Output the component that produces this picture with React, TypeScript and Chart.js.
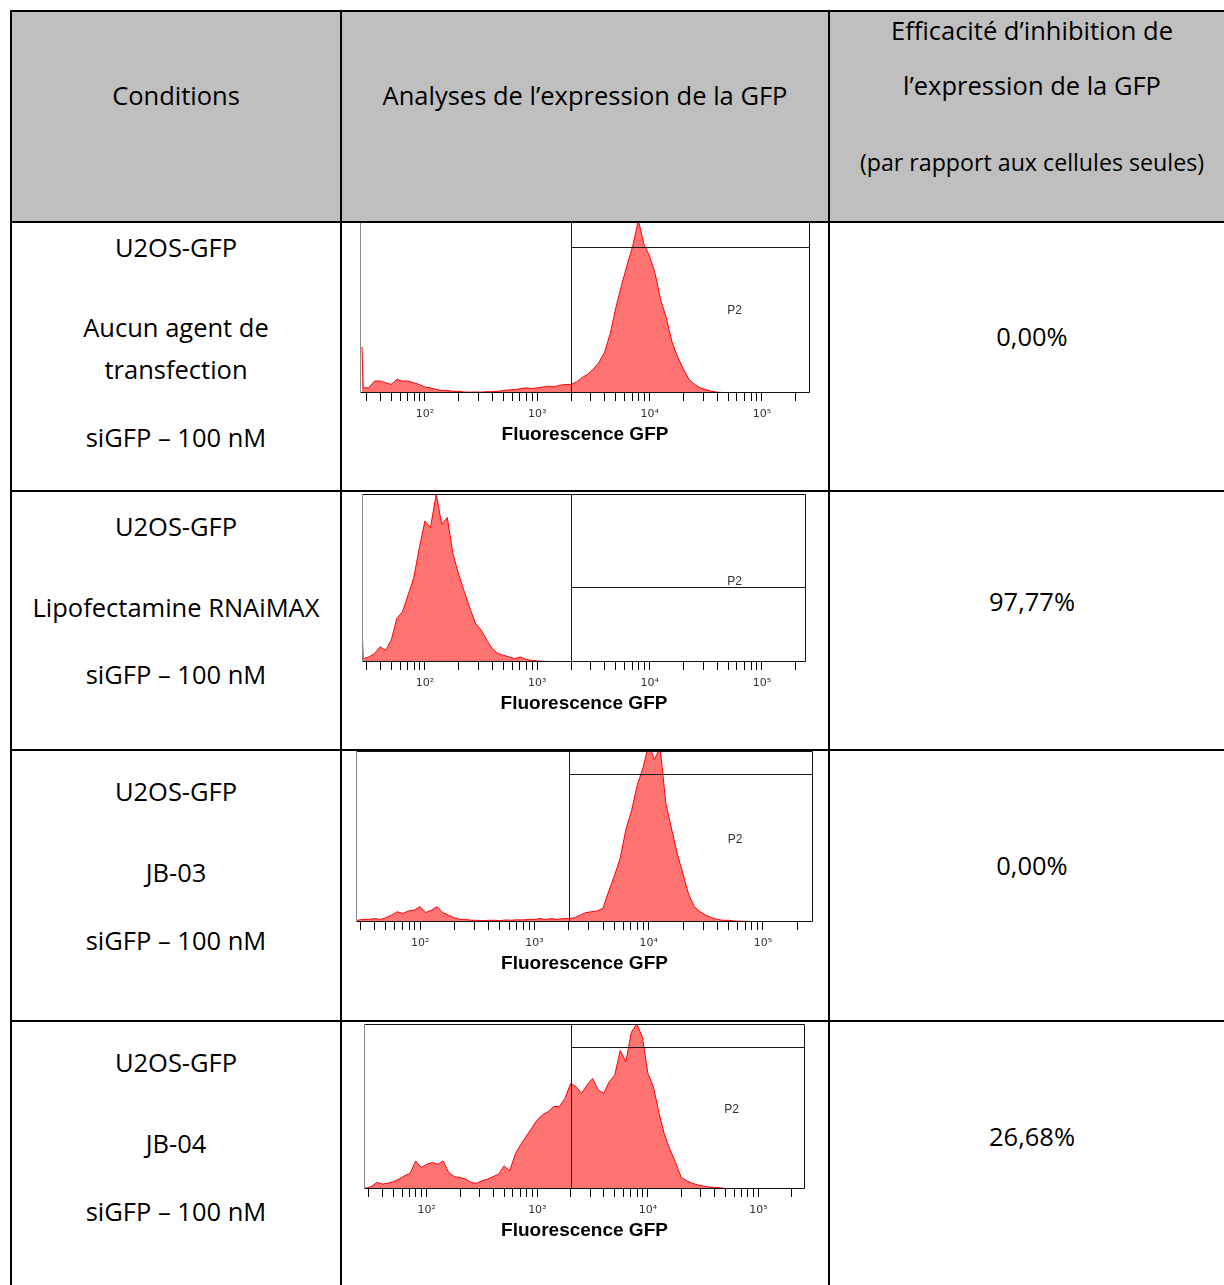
import React, { useEffect, useRef } from "react";
import { Chart, registerables } from "chart.js";

Chart.register(...registerables);

// ---------- DATA ----------
// fluorescence bin positions (GFP intensity, log spaced as read on the axis)
const bins = [
  27.5, 28.2, 31.6, 35.5, 39.8, 44.7, 50.1, 56.2, 63.1, 70.8, 79.4, 89.1,
  100, 112, 126, 141, 158, 178, 200, 224, 251, 282, 316, 355, 398, 447, 501, 562, 631, 708, 794, 891,
  1000, 1120, 1260, 1410, 1580, 1780, 2000, 2240, 2510, 2820, 3160, 3550, 3980, 4470, 5010, 5620, 6310, 7080, 7940, 8910,
  10000, 11200, 12600, 14100, 15800, 17800, 20000, 22400, 25100, 28200, 31600, 35500, 39800, 44700, 50100, 56200, 63100, 70800, 79400, 89100,
  100000, 112000, 126000, 141000, 158000, 178000, 200000, 224000, 251000,
];

// counts (% of panel full scale)
const countsNoAgent = [
  27, 3, 3, 7, 7, 6, 5, 8, 7, 7, 6, 5,
  3.5, 3, 2, 1.5, 1.5, 1, 1, 0.6, 0.5, 0.6, 0.5, 0.8, 0.8, 1, 1.5, 1.8, 2, 2.5, 3, 2.6,
  3, 3.5, 4, 3.6, 4.5, 5, 5, 6.5, 9, 11, 14, 18, 24, 35, 50, 63, 75, 86, 101, 87,
  80, 70, 54, 44, 30, 21, 14, 8, 5, 3, 2, 1, 0.5, 0.3, 0, 0, 0, 0, 0, 0,
  0, 0, 0, 0, 0, 0, 0, 0, 0,
];
const countsLipo = [
  22, 2, 3, 5, 9, 7, 13, 26, 30, 40, 50, 68,
  84, 80, 100, 82, 86, 64, 52, 42, 32, 23, 19, 13, 8, 5, 4, 3, 2, 3, 1.5, 1,
  0.6, 0.4, 0.3, 0.3, 0.2, 0.3, 0.3, 0.2, 0.3, 0.3, 0.2, 0.3, 0.2, 0.2, 0.3, 0.2, 0.2, 0.3, 0.2, 0.3,
  0, 0, 0, 0, 0, 0, 0, 0, 0, 0, 0, 0, 0, 0, 0, 0, 0, 0, 0, 0,
  0, 0, 0, 0, 0, 0, 0, 0, 0,
];
const countsJB03 = [
  1, 1, 1.5, 1.5, 2, 1.5, 2.5, 4, 6, 5, 6.5, 7,
  9, 5.5, 7, 9, 5.5, 4, 2.5, 1.5, 1.5, 1, 1, 0.8, 1, 1, 0.8, 1.2, 1, 1.3, 1.2, 1.5,
  1.5, 2, 1.5, 2, 1.5, 2, 2, 2.5, 4, 5.5, 6, 6.5, 8, 18, 27, 37, 54, 65, 80, 90,
  104, 95, 102, 70, 55, 40, 28, 16, 9, 6, 4, 2.5, 1.5, 1, 1, 0.6, 0.5, 0.4, 0.3, 0.3,
  0.3, 0, 0, 0, 0, 0, 0, 0, 0,
];
const countsJB04 = [
  1, 0.5, 1.5, 4, 3, 3.5, 4.5, 6, 8, 9.5, 17, 13,
  15, 16, 15, 17, 10, 7.5, 7, 6, 4, 3.5, 5, 6, 7.5, 9, 14, 11, 21, 27, 32, 37,
  42, 45, 47, 50, 50, 55, 64, 62, 58, 63, 67, 60, 58, 65, 69, 84, 77, 95, 100, 92,
  70, 62, 46, 33, 24, 16, 7, 5, 3.5, 2.5, 1.8, 1.2, 1, 0.8, 0.3, 0, 0, 0, 0, 0,
  0, 0, 0, 0, 0, 0, 0, 0, 0,
];

const tickValues = [
  30, 40, 50, 60, 70, 80, 90, 100, 200, 300, 400, 500, 600, 700, 800, 900,
  1000, 2000, 3000, 4000, 5000, 6000, 7000, 8000, 9000, 10000, 20000, 30000, 40000,
  50000, 60000, 70000, 80000, 90000, 100000, 200000,
];

const gateThreshold = 2000; // P2 gate start
const gateLevels = [85.4, 44.5, 86.3, 86.2]; // P2 top line (% of scale)
const gateLabelAt = [57000, 48];

const conditionLines = [
  ["U2OS-GFP", "Aucun agent de", "transfection", "siGFP – 100 nM"],
  ["U2OS-GFP", "Lipofectamine RNAiMAX", "siGFP – 100 nM"],
  ["U2OS-GFP", "JB-03", "siGFP – 100 nM"],
  ["U2OS-GFP", "JB-04", "siGFP – 100 nM"],
];
const inhibition = [0, 97.77, 0, 26.68];
const panelCounts = [countsNoAgent, countsLipo, countsJB03, countsJB04];
const panelRanges = [
  [26.4, 268000],
  [27.5, 247000],
  [27.5, 274000],
  [27.1, 263000],
];

// ---------- LAYOUT ----------
const PAD = 6;
const AXIS_H = 53;
const TEXT_SIZE = 25.5;
const panelBoxes = [
  { L: 360, R: 810, T: 222, B: 393 },
  { L: 362, R: 806, T: 494, B: 662 },
  { L: 356, R: 813, T: 751, B: 922 },
  { L: 364, R: 805, T: 1024, B: 1189 },
];
const condY = [
  [247, 327, 369, 437],
  [526, 607, 674],
  [791, 872, 940],
  [1062, 1143, 1211],
];
const pctY = [336, 601, 865, 1136];
const vLines = [10, 340, 828];
const hLines = [10, 221, 490, 749, 1020];

const FONT = "'Open Sans', Lato, sans-serif";
const sup: Record<number, string> = { 2: "²", 3: "³", 4: "⁴", 5: "⁵" };

const gatePlugin = {
  id: "gate",
  afterDatasetsDraw(chart: any, _args: any, opts: any) {
    const { ctx, chartArea, scales } = chart;
    const { left, right, top, bottom } = chartArea;
    const x = scales.x;
    const y = scales.y;
    ctx.save();
    // frame
    ctx.lineWidth = 1;
    ctx.strokeStyle = "#111";
    ctx.beginPath();
    ctx.moveTo(left, top + 0.5);
    ctx.lineTo(right - 0.5, top + 0.5);
    ctx.lineTo(right - 0.5, bottom - 0.5);
    ctx.lineTo(left, bottom - 0.5);
    ctx.stroke();
    ctx.strokeStyle = "#8a8a8a";
    ctx.beginPath();
    ctx.moveTo(left + 0.5, top);
    ctx.lineTo(left + 0.5, bottom);
    ctx.stroke();
    // gate
    const gx = Math.round(x.getPixelForValue(opts.threshold)) + 0.5;
    const gy = Math.round(y.getPixelForValue(opts.level)) + 0.5;
    ctx.strokeStyle = "#1a1a1a";
    ctx.beginPath();
    ctx.moveTo(gx, top);
    ctx.lineTo(gx, bottom);
    ctx.moveTo(gx, gy);
    ctx.lineTo(right, gy);
    ctx.stroke();
    ctx.fillStyle = "#333";
    ctx.font = "12px 'Liberation Sans', sans-serif";
    ctx.textAlign = "center";
    ctx.textBaseline = "middle";
    ctx.fillText(opts.label, x.getPixelForValue(opts.labelAt[0]), y.getPixelForValue(opts.labelAt[1]));
    ctx.restore();
  },
};

function Histogram({ idx }: { idx: number }) {
  const ref = useRef<HTMLCanvasElement>(null);
  const box = panelBoxes[idx];
  const w = box.R - box.L + PAD * 2;
  const h = box.B - box.T + AXIS_H;
  useEffect(() => {
    const chart = new Chart(ref.current as HTMLCanvasElement, {
      type: "line",
      data: {
        labels: bins,
        datasets: [
          {
            data: panelCounts[idx],
            borderColor: "#ff0000",
            backgroundColor: "rgba(255,0,0,0.55)",
            borderWidth: 1,
            pointRadius: 0,
            fill: "origin",
            tension: 0,
          },
        ],
      },
      options: {
        animation: false,
        responsive: false,
        events: [],
        layout: { padding: { left: PAD, right: PAD, top: 0, bottom: 0 } },
        plugins: {
          legend: { display: false },
          tooltip: { enabled: false },
          gate: {
            threshold: gateThreshold,
            level: gateLevels[idx],
            label: "P2",
            labelAt: gateLabelAt,
          },
        } as any,
        scales: {
          x: {
            type: "logarithmic",
            min: panelRanges[idx][0],
            max: panelRanges[idx][1],
            bounds: "data",
            afterBuildTicks: (axis: any) => {
              axis.ticks = tickValues
                .filter((v) => v >= axis.min && v <= axis.max)
                .map((v) => ({ value: v }));
            },
            afterFit: (axis: any) => {
              axis.height = AXIS_H;
            },
            grid: {
              drawOnChartArea: false,
              drawTicks: true,
              tickLength: 8,
              color: "#000",
              lineWidth: 1,
            },
            border: { display: false },
            ticks: {
              autoSkip: false,
              maxRotation: 0,
              minRotation: 0,
              padding: 7,
              color: "#333",
              font: { family: "'DejaVu Sans', sans-serif", size: 11 },
              callback: (v: any) => {
                const val = Number(v);
                const e = Math.round(Math.log10(val));
                return Math.abs(val - Math.pow(10, e)) < 1e-6 * val ? "10" + (sup[e] || "") : "";
              },
            },
            title: {
              display: true,
              text: "Fluorescence GFP",
              color: "#000",
              font: { family: "'Liberation Sans', Arial, sans-serif", size: 19, weight: "bold", lineHeight: 1.2 },
              padding: { top: 0, bottom: 0 },
            },
          },
          y: { display: false, min: 0, max: 100 },
        },
      } as any,
      plugins: [gatePlugin],
    });
    return () => chart.destroy();
  }, [idx]);
  return (
    <canvas
      ref={ref}
      width={w}
      height={h}
      style={{ position: "absolute", left: box.L - PAD, top: box.T, width: w, height: h }}
    />
  );
}

function Txt({ x, y, size, children }: { x: number; y: number; size: number; children: React.ReactNode }) {
  return (
    <div
      style={{
        position: "absolute",
        left: x - 300,
        top: y - size,
        width: 600,
        height: size * 2,
        lineHeight: `${size * 2}px`,
        textAlign: "center",
        fontSize: size,
        fontFamily: FONT,
        color: "#000",
        whiteSpace: "nowrap",
      }}
    >
      {children}
    </div>
  );
}

export default function App() {
  const fmt = (v: number) => v.toFixed(2).replace(".", ",") + "%";
  return (
    <div
      style={{
        position: "absolute",
        left: 0,
        top: 0,
        width: 1224,
        height: 1285,
        overflow: "hidden",
        background: "#fff",
      }}
    >
      <div style={{ position: "absolute", left: 12, top: 12, width: 1212, height: 209, background: "#bfbfbf" }} />
      <Txt x={176} y={95} size={TEXT_SIZE}>Conditions</Txt>
      <Txt x={585} y={95} size={TEXT_SIZE}>Analyses de l’expression de la GFP</Txt>
      <Txt x={1032} y={30} size={TEXT_SIZE}>Efficacité d’inhibition de</Txt>
      <Txt x={1032} y={85} size={TEXT_SIZE}>l’expression de la GFP</Txt>
      <Txt x={1032} y={162} size={23.2}>(par rapport aux cellules seules)</Txt>
      {conditionLines.map((lines, r) =>
        lines.map((t, i) => (
          <Txt key={`c${r}-${i}`} x={176} y={condY[r][i]} size={TEXT_SIZE}>
            {t}
          </Txt>
        ))
      )}
      {inhibition.map((v, r) => (
        <Txt key={`p${r}`} x={1032} y={pctY[r]} size={TEXT_SIZE}>
          {fmt(v)}
        </Txt>
      ))}
      {panelBoxes.map((_, i) => (
        <Histogram key={i} idx={i} />
      ))}
      {vLines.map((x) => (
        <div key={`v${x}`} style={{ position: "absolute", left: x, top: 10, width: 2, height: 1300, background: "#000" }} />
      ))}
      {hLines.map((y) => (
        <div key={`h${y}`} style={{ position: "absolute", left: 10, top: y, width: 1230, height: 2, background: "#000" }} />
      ))}
    </div>
  );
}
